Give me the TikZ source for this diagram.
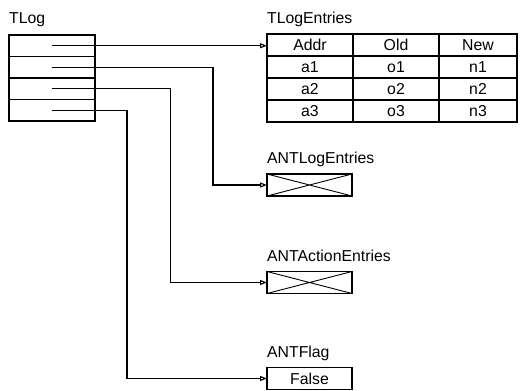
\documentclass[tikz,border=0pt]{standalone}
\usepackage{fontspec}
\setmainfont{Liberation Sans}
\usetikzlibrary{arrows.meta}
\begin{document}
\begin{tikzpicture}[x=1pt,y=-1pt,
  lbl/.style={anchor=base west, inner sep=0pt, font=\fontsize{15.8}{18}\selectfont},
  cell/.style={draw, line width=1.2pt, inner sep=0pt, outer sep=0pt, anchor=north west,
    minimum height=22pt, font=\fontsize{15.8}{18}\selectfont},
  slot/.style={cell, minimum width=86pt, minimum height=21.5pt},
  colA/.style={cell, minimum width=86pt},
  colC/.style={cell, minimum width=78pt},
  obj/.style={cell, minimum width=85pt},
  ptr/.style={line width=1.2pt, -{Triangle[open, length=7pt, width=5pt, line width=1.1pt]}},
  cross/.style={line width=0.9pt}
]
\useasboundingbox (0,0) rectangle (520,391);

% TLog record with four pointer slots
\node[lbl] (tlogL) at (9,23) {TLog};
\node[slot] (t1) at (9,35) {};
\node[slot] (t2) at (9,56.5) {};
\node[slot] (t3) at (9,78) {};
\node[slot] (t4) at (9,99.5) {};

% TLogEntries table
\node[lbl] (entL) at (267,23) {TLogEntries};
\node[colA] (h1) at (267,34) {Addr};
\node[colA] (h2) at (353,34) {Old};
\node[colC] (h3) at (439,34) {New};
\node[colA] (a1) at (267,56) {a1};
\node[colA] (o1) at (353,56) {o1};
\node[colC] (n1) at (439,56) {n1};
\node[colA] (a2) at (267,78) {a2};
\node[colA] (o2) at (353,78) {o2};
\node[colC] (n2) at (439,78) {n2};
\node[colA] (a3) at (267,100) {a3};
\node[colA] (o3) at (353,100) {o3};
\node[colC] (n3) at (439,100) {n3};

% Empty (null) objects
\node[lbl] (aleL) at (267,163) {ANTLogEntries};
\node[obj] (ale) at (267,174) {};
\draw[cross] (ale.north west) -- (ale.south east) (ale.south west) -- (ale.north east);

\node[lbl] (aaeL) at (267,261) {ANTActionEntries};
\node[obj] (aae) at (267,271.5) {};
\draw[cross] (aae.north west) -- (aae.south east) (aae.south west) -- (aae.north east);

% Flag object
\node[lbl] (flagL) at (267,357) {ANTFlag};
\node[obj] (flag) at (267,367.5) {False};

% Routing columns for the pointers
\coordinate (c2) at (213,0);
\coordinate (c3) at (170.5,0);
\coordinate (c4) at (127,0);

% Pointers
\draw[ptr] (t1.center) -- (t1.center -| h1.west);
\draw[ptr] (t2.center) -| (c2 |- ale.west) -- (ale.west);
\draw[ptr] (t3.center) -| (c3 |- aae.west) -- (aae.west);
\draw[ptr] (t4.center) -| (c4 |- flag.west) -- (flag.west);
\end{tikzpicture}
\end{document}
